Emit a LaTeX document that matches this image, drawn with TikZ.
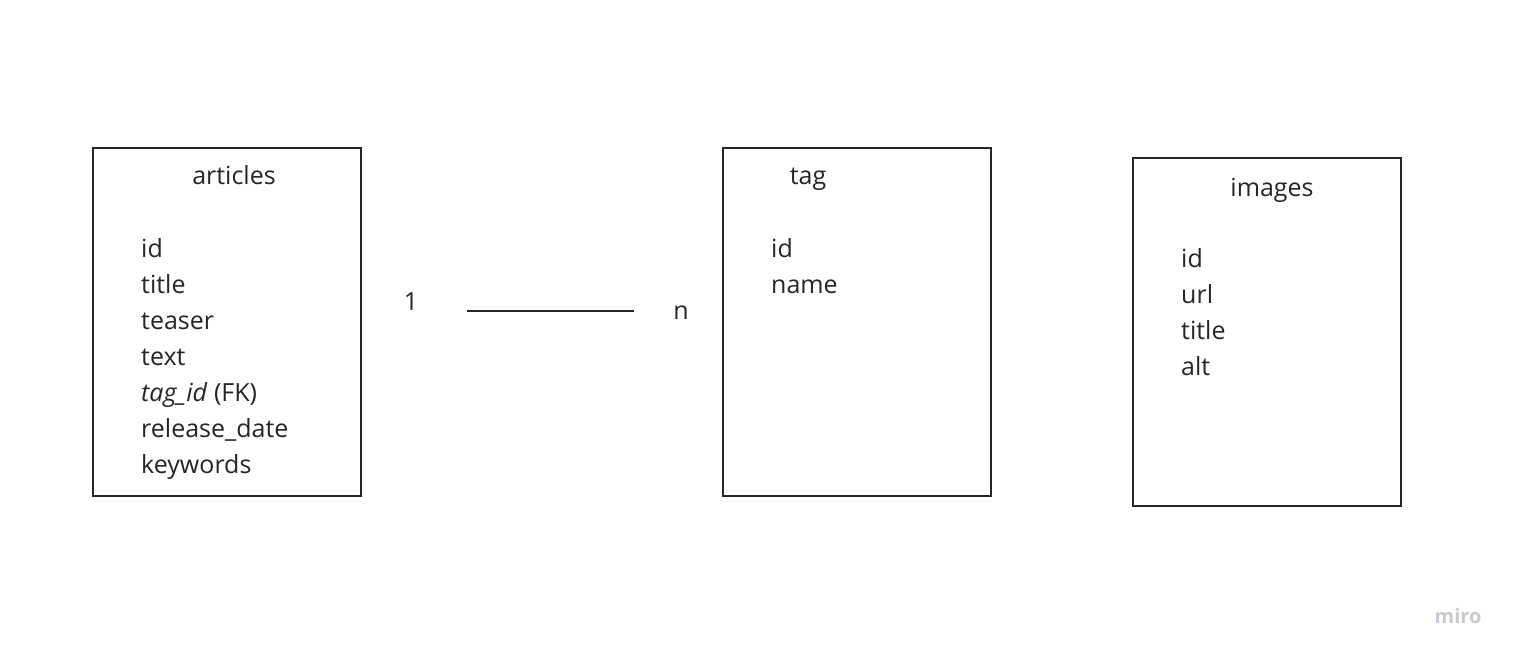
\documentclass[tikz,border=0pt]{standalone}
\usepackage{fontspec}
\setmainfont{Open Sans}
\definecolor{miroc}{RGB}{200,202,210}
\begin{document}
\begin{tikzpicture}[x=1pt,y=-1pt,
  tbl/.style={draw=black!85,line width=2pt,anchor=north west,inner sep=0pt,outer sep=0pt},
  ttl/.style={anchor=mid,inner sep=0pt,font=\fontsize{25}{29}\selectfont,text=black!85},
  fld/.style={anchor=mid west,inner sep=0pt,font=\fontsize{25}{29}\selectfont,text=black!85},
  lbl/.style={anchor=mid,inner sep=0pt,font=\fontsize{25}{29}\selectfont,text=black!85},
  rel/.style={draw=black!85,line width=2pt}]
\useasboundingbox[fill=white] (0,0) rectangle (1517,658);
% tables
\node[tbl,minimum width=268pt,minimum height=348pt] (articles) at (93,148) {};
\node[tbl,minimum width=268pt,minimum height=348pt] (tag) at (723,148) {};
\node[tbl,minimum width=268pt,minimum height=348pt] (images) at (1133,158) {};
% titles
\node[ttl] (articlesT) at (234,182) {articles};
\node[ttl] (tagT) at (808,182) {tag};
\node[ttl] (imagesT) at (1272,194) {images};
% articles fields
\node[fld] (a1) at (141,254.5) {id};
\node[fld] (a2) at (141,290.5) {title};
\node[fld] (a3) at (141,326.5) {teaser};
\node[fld] (a4) at (141,362.5) {text};
\node[fld] (a5) at (141,398.5) {\textit{tag\_id} (FK)};
\node[fld] (a6) at (141,434.5) {release\_date};
\node[fld] (a7) at (141,470.5) {keywords};
% tag fields
\node[fld] (t1) at (771,254.5) {id};
\node[fld] (t2) at (771,290.5) {name};
% images fields
\node[fld] (i1) at (1181,264.5) {id};
\node[fld] (i2) at (1181,300.5) {url};
\node[fld] (i3) at (1181,336.5) {title};
\node[fld] (i4) at (1181,372.5) {alt};
% relation
\node[lbl] (one) at (411,307.5) {1};
\node[lbl] (many) at (681,316.5) {n};
\coordinate (rs) at (467,311);
\coordinate (re) at (634,311);
\draw[rel] (rs) -- (re);
% watermark
\node[anchor=mid,inner sep=0pt,font=\fontsize{20}{23}\selectfont\fontseries{sb}\selectfont,text=miroc] (miro) at (1458,621) {miro};
\end{tikzpicture}
\end{document}
